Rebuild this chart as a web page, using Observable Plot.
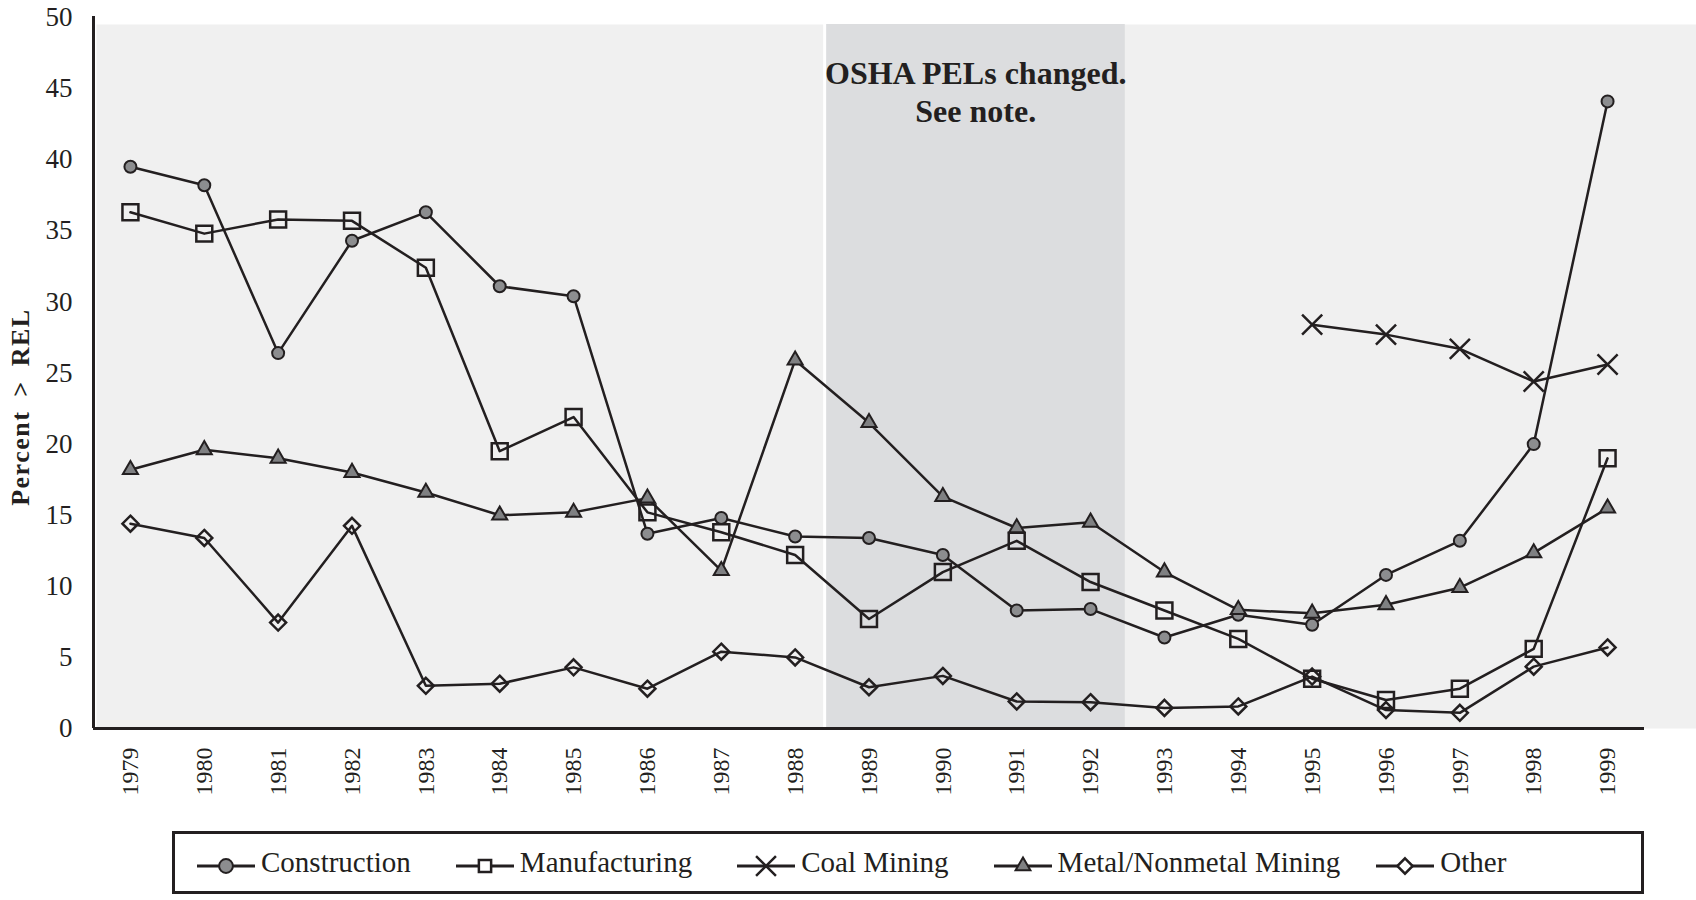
<!DOCTYPE html>
<html>
<head>
<meta charset="utf-8">
<script src="https://cdn.jsdelivr.net/npm/d3@7"></script>
<script src="https://cdn.jsdelivr.net/npm/@observablehq/plot@0.6"></script>
<style>
  body { margin: 0; background: #fff; }
  #wrap { position: relative; width: 1696px; height: 900px; font-family: "Liberation Serif", "Times New Roman", serif; color: #231f20; }
  #legend { position: absolute; left: 172px; top: 831px; width: 1472px; height: 63px; box-sizing: border-box;
            border: 3px solid #231f20; display: flex; align-items: center; padding-left: 22px; font-size: 29px; }
  .item { display: flex; align-items: center; margin-right: 45px; white-space: nowrap; }
  .item:nth-child(4) { margin-right: 36px; }
  .item svg { margin-right: 6px; position: relative; top: 3px; }
</style>
</head>
<body>
<div id="wrap"></div>
<script>
const years = [1979,1980,1981,1982,1983,1984,1985,1986,1987,1988,1989,1990,1991,1992,1993,1994,1995,1996,1997,1998,1999];
const construction  = [39.5,38.2,26.4,34.3,36.3,31.1,30.4,13.7,14.8,13.5,13.4,12.2,8.3,8.4,6.4,8.0,7.3,10.8,13.2,20.0,44.1];
const manufacturing = [36.3,34.8,35.8,35.7,32.4,19.5,21.9,15.2,13.8,12.2,7.7,11.0,13.2,10.3,8.3,6.3,3.5,2.0,2.8,5.6,19.0];
const coalMining    = [null,null,null,null,null,null,null,null,null,null,null,null,null,null,null,null,28.4,27.7,26.7,24.4,25.6];
const metalMining   = [18.2,19.6,19.0,18.0,16.6,15.0,15.2,16.2,11.1,25.9,21.5,16.3,14.1,14.5,11.0,8.35,8.1,8.7,9.9,12.35,15.5];
const other         = [14.4,13.4,7.45,14.25,3.0,3.15,4.3,2.8,5.4,5.0,2.9,3.7,1.9,1.85,1.45,1.55,3.65,1.3,1.1,4.35,5.7];
const seriesNames = ["Construction","Manufacturing","Coal Mining","Metal/Nonmetal Mining","Other"];
const yTicks = [0,5,10,15,20,25,30,35,40,45,50];
const shadedYears = [1988.42, 1992.47];
const annotation = "OSHA PELs changed.\nSee note.";
const yLabel = "Percent > REL";

const ink = "#231f20";
const series = [
  {name: seriesNames[0], values: construction,  symbol: "circle",   r: 6,   fill: "#8c8d8f", sw: 2,   d3sym: d3.symbolCircle,   lsize: 150},
  {name: seriesNames[1], values: manufacturing, symbol: "square",   r: 9,   fill: "none",    sw: 2.5, d3sym: d3.symbolSquare,   lsize: 150},
  {name: seriesNames[2], values: coalMining,    symbol: "times",    r: 9.2, fill: "none",    sw: 2.5, d3sym: d3.symbolTimes,    lsize: 260},
  {name: seriesNames[3], values: metalMining,   symbol: "triangle", r: 5.6, fill: "#7f8082", sw: 2,   d3sym: d3.symbolTriangle, lsize: 95},
  {name: seriesNames[4], values: other,         symbol: "diamond2", r: 7.2, fill: "none",    sw: 2.5, d3sym: d3.symbolDiamond2, lsize: 150}
];

const rowsOf = s => years.map((year, i) => ({year, value: s.values[i]}));
const mid = (shadedYears[0] + shadedYears[1]) / 2;

const marks = [
  Plot.frame({fill: "#f0f0f0", stroke: null, insetTop: 7, insetLeft: 3, insetRight: -52}),
  Plot.rect([shadedYears], {x1: d => d[0], x2: d => d[1], fill: "#dcdddf", insetTop: 7}),
  Plot.ruleX([shadedYears[0]], {stroke: "#ffffff", strokeWidth: 3, dx: -1.5, insetTop: 7}),
  Plot.axisY({ticks: yTicks, tickSize: 0, tickPadding: 21, fontSize: 27, label: null, tickFormat: d => String(d)}),
  Plot.axisX({ticks: years, tickSize: 0, tickPadding: 19, fontSize: 24, tickRotate: -90, label: null, tickFormat: d => String(d)}),
  Plot.ruleX([1978.5], {stroke: ink, strokeWidth: 3, insetTop: -1}),
  Plot.ruleY([0], {stroke: ink, strokeWidth: 3})
];
for (const s of series) {
  marks.push(Plot.line(rowsOf(s), {x: "year", y: "value", stroke: ink, strokeWidth: 2.5, defined: d => d.value != null}));
}
for (const s of series) {
  marks.push(Plot.dot(rowsOf(s).filter(d => d.value != null), {x: "year", y: "value", symbol: () => s.symbol, r: s.r, fill: s.fill, stroke: ink, strokeWidth: s.sw}));
}
marks.push(Plot.text([annotation], {x: () => mid, frameAnchor: "top", lineAnchor: "top", textAnchor: "middle", dy: 40,
  fontSize: 32, fontWeight: "bold", lineHeight: 1.17, fill: ink}));
marks.push(Plot.text([yLabel], {frameAnchor: "left", y: () => 22.6, dx: -73, rotate: -90, textAnchor: "middle",
  fontSize: 26, fontWeight: "bold", fill: ink}));

const plot = Plot.plot({
  width: 1696, height: 820,
  marginLeft: 93, marginRight: 52, marginTop: 17, marginBottom: 92,
  style: {fontFamily: "'Liberation Serif', 'Times New Roman', serif", color: ink, background: "transparent"},
  x: {type: "linear", domain: [1978.5, 1999.5]},
  y: {domain: [0, 50]},
  symbol: {type: "identity"},
  marks
});
d3.select(plot).selectAll("text").filter(function() { return this.textContent === yLabel; })
  .style("word-spacing", "6px").style("letter-spacing", "1.5px");

const wrap = document.getElementById("wrap");
wrap.appendChild(plot);

const legend = document.createElement("div");
legend.id = "legend";
for (const s of series) {
  const item = document.createElement("div");
  item.className = "item";
  const svg = d3.create("svg").attr("width", 58).attr("height", 26);
  svg.append("line").attr("x1", 0).attr("x2", 58).attr("y1", 13).attr("y2", 13).attr("stroke", ink).attr("stroke-width", 3);
  svg.append("path").attr("transform", "translate(29,13)")
    .attr("d", d3.symbol().type(s.d3sym).size(s.lsize)())
    .attr("fill", s.fill === "none" ? "#ffffff" : s.fill).attr("stroke", ink).attr("stroke-width", s.sw);
  item.appendChild(svg.node());
  const label = document.createElement("span");
  label.textContent = s.name;
  item.appendChild(label);
  legend.appendChild(item);
}
wrap.appendChild(legend);
</script>
</body>
</html>
